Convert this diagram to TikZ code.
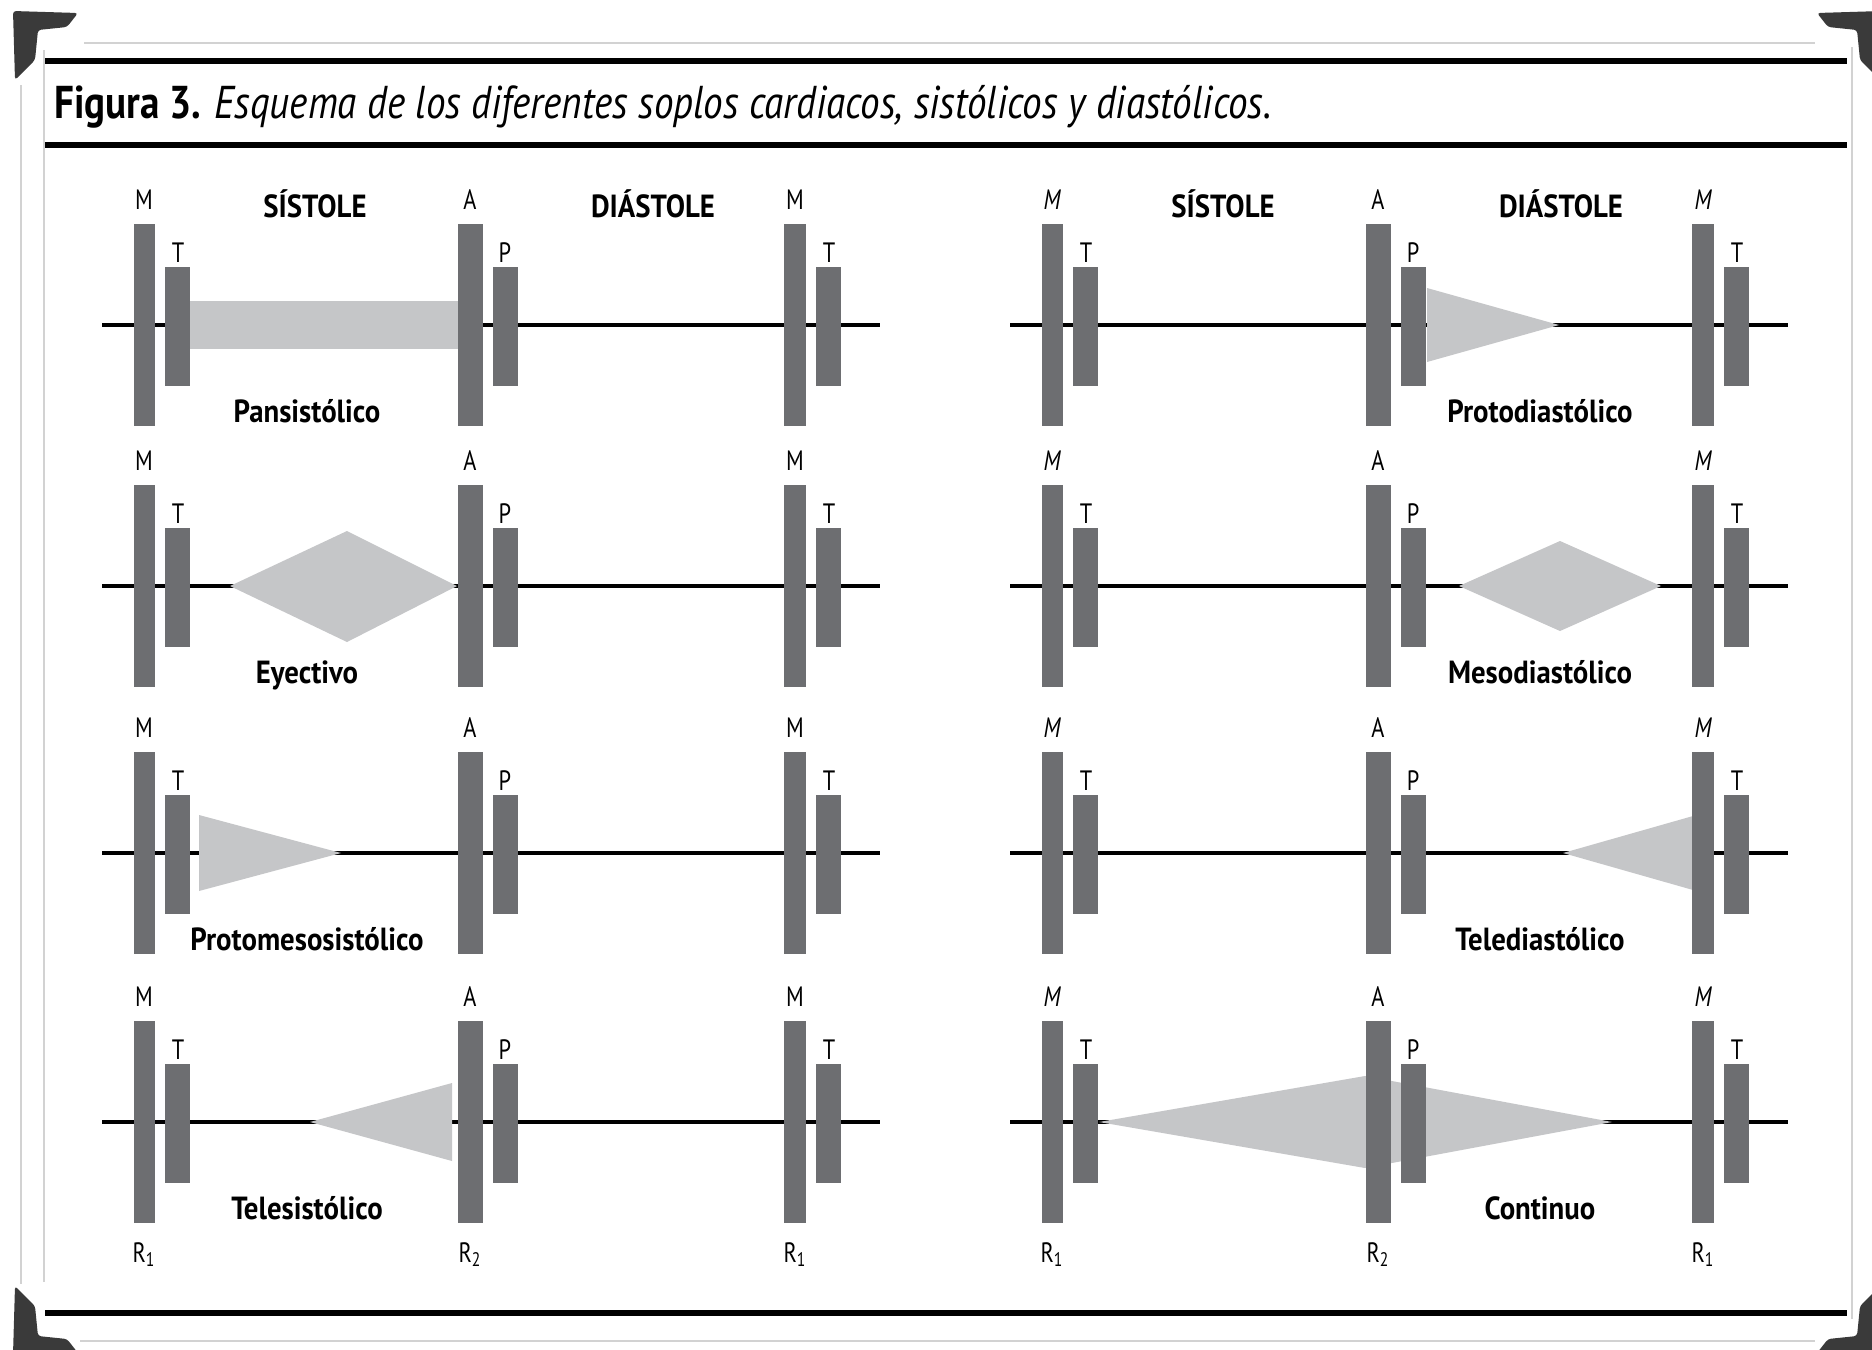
\documentclass[tikz,border=0pt]{standalone}
\usepackage{fontspec}
\setmainfont{PT Sans}
\newfontfamily\condfont[FakeStretch=0.8]{PT Sans}
\newfontfamily\labelfont[FakeStretch=0.9]{PT Sans}
\newfontfamily\titlefont[FakeStretch=0.85]{PT Sans}
\definecolor{bargray}{HTML}{6D6E71}
\definecolor{soplogray}{HTML}{C5C6C8}
\definecolor{framegray}{HTML}{D2D2D2}
\definecolor{cornergray}{HTML}{3A3A3A}

\begin{document}
\begin{tikzpicture}[x=0.5pt,y=-0.5pt,
  bar/.style={fill=bargray,draw=none},
  soplo/.style={fill=soplogray,draw=none},
  axisline/.style={line width=2pt},
  rule/.style={line width=2.6pt},
  thinrule/.style={line width=0.8pt,framegray},
  corner/.style={fill=cornergray,draw=none,rounded corners=1.5pt},
  valve/.style={font=\condfont\fontsize{14}{14}\selectfont,inner sep=0pt,anchor=base},
  phase/.style={font=\labelfont\bfseries\fontsize{16}{16}\selectfont,inner sep=0pt,anchor=base},
  tipo/.style={font=\labelfont\bfseries\fontsize{16}{16}\selectfont,inner sep=0pt,anchor=base}]

\useasboundingbox (0,0) rectangle (1872,1349);
\fill[white] (0,0) rectangle (1872,1349);

% marco
\draw[thinrule] (84,43) -- (1815,43);
\draw[thinrule] (80,1341) -- (1815,1341);
\draw[thinrule] (21,85) -- (21,1284);
\draw[thinrule] (44,50) -- (44,1282);
\draw[thinrule] (1852,47) -- (1852,1319);
\draw[rule] (45,61) -- (1847,61);
\draw[rule] (45,145) -- (1847,145);
\draw[rule] (45,1313) -- (1847,1313);

\fill[corner] (13,11) -- (78,13) -- (67,27) -- (38,30) -- (35,60) -- (15,80) -- cycle;
\fill[corner] (1882,11) -- (1817,13) -- (1828,27) -- (1857,30) -- (1860,60) -- (1880,80) -- cycle;
\fill[corner] (13,1355) -- (78,1353) -- (67,1339) -- (38,1336) -- (35,1306) -- (15,1286) -- cycle;
\fill[corner] (1882,1355) -- (1817,1353) -- (1828,1339) -- (1857,1336) -- (1860,1306) -- (1880,1286) -- cycle;

\node[anchor=base west,inner sep=0pt,font=\titlefont\fontsize{23}{23}\selectfont] (titulo) at (54,118)
  {\bfseries Figura 3. \mdseries\itshape Esquema de los diferentes soplos cardiacos, sistólicos y diastólicos.};

% ejes
\foreach \cx in {0,908} {
\foreach \ay in {325,586,853,1122} {
\draw[axisline] (\cx+102,\ay) -- (\cx+880,\ay);
}
}

% soplos
\fill[soplo] (190,301) rectangle (458,349);
\fill[soplo] (1427,288) -- (1559,325) -- (1427,362) -- cycle;
\fill[soplo] (230,586) -- (347,531) -- (457,586) -- (347,642) -- cycle;
\fill[soplo] (1459,586) -- (1560,541) -- (1661,586) -- (1560,631) -- cycle;
\fill[soplo] (199,815) -- (341,853) -- (199,891) -- cycle;
\fill[soplo] (1693,816) -- (1563,853) -- (1693,890) -- cycle;
\fill[soplo] (452,1083) -- (310,1122) -- (452,1161) -- cycle;
\fill[soplo] (1099,1122) -- (1365,1076) -- (1612,1122) -- (1365,1168) -- cycle;

% ruidos
\foreach \cx/\mf in {0/\upshape,908/\itshape} {
\foreach \ay in {325,586,853,1122} {
\fill[bar] (\cx+134,\ay-101) rectangle (\cx+155,\ay+101);
\fill[bar] (\cx+165,\ay-58) rectangle (\cx+190,\ay+61);
\fill[bar] (\cx+458,\ay-101) rectangle (\cx+483,\ay+101);
\fill[bar] (\cx+493,\ay-58) rectangle (\cx+518,\ay+61);
\fill[bar] (\cx+784,\ay-101) rectangle (\cx+806,\ay+101);
\fill[bar] (\cx+816,\ay-58) rectangle (\cx+841,\ay+61);
\node[valve] (m-\cx-\ay) at (\cx+144,\ay-116) {\mf M};
\node[valve] (t-\cx-\ay) at (\cx+178,\ay-63) {T};
\node[valve] (a-\cx-\ay) at (\cx+470,\ay-116) {A};
\node[valve] (p-\cx-\ay) at (\cx+505,\ay-63) {P};
\node[valve] (mm-\cx-\ay) at (\cx+795,\ay-116) {\mf M};
\node[valve] (tt-\cx-\ay) at (\cx+829,\ay-63) {T};
}
\node[phase] (sis-\cx) at (\cx+315,217) {SÍSTOLE};
\node[phase] (dia-\cx) at (\cx+653,217) {DIÁSTOLE};
\node[valve] (ra-\cx) at (\cx+144,1262) {R\textsubscript{1}};
\node[valve] (rb-\cx) at (\cx+470,1262) {R\textsubscript{2}};
\node[valve] (rc-\cx) at (\cx+795,1262) {R\textsubscript{1}};
}

% nombres
\foreach \tx/\ty/\tname in {307/422/Pansistólico, 307/683/Eyectivo, 307/950/Protomesosistólico, 307/1219/Telesistólico,
  1540/422/Protodiastólico, 1540/683/Mesodiastólico, 1540/950/Telediastólico, 1540/1219/Continuo} {
\node[tipo] (n-\tx-\ty) at (\tx,\ty) {\tname};
}
\end{tikzpicture}
\end{document}
